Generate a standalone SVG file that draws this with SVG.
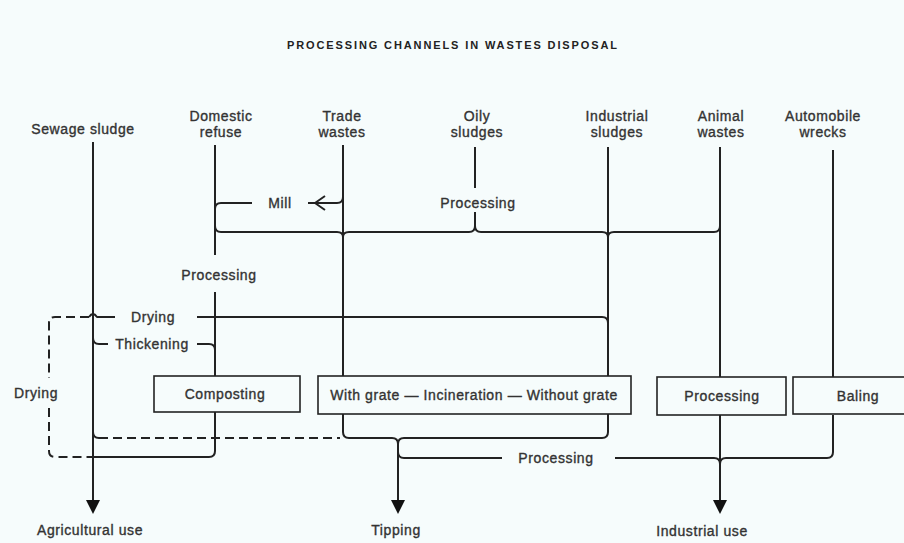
<svg xmlns="http://www.w3.org/2000/svg" width="904" height="543" viewBox="0 0 904 543">
<style>
.t{font-family:"Liberation Sans",Arial,sans-serif;font-size:14px;letter-spacing:0.6px;fill:#333;stroke:#333;stroke-width:0.35;text-anchor:middle}
.ln{fill:none;stroke:#222;stroke-width:2;stroke-linecap:butt;stroke-linejoin:round}
.ds{fill:none;stroke:#222;stroke-width:2;stroke-dasharray:9 5}
.bx{fill:none;stroke:#222;stroke-width:1.6}
.ah{fill:#111}
</style>
<rect width="904" height="543" fill="#f6fcfc"/>
<text x="452" y="49" style="font-family:'Liberation Sans',Arial,sans-serif;font-size:11px;font-weight:bold;fill:#222" text-anchor="middle" textLength="330" lengthAdjust="spacing">PROCESSING CHANNELS IN WASTES DISPOSAL</text>

<g id="connectors">
<path class="ln" d="M93,142 V502"/>
<path class="ln" d="M215,145 V255"/>
<path class="ln" d="M215,292 V376"/>
<path class="ln" d="M215,412 V451 Q215,457 209,457 H93"/>
<path class="ln" d="M343,145 V376"/>
<path class="ln" d="M475,147 V188"/>
<path class="ln" d="M475,212 V226"/>
<path class="ln" d="M215,226 Q215,232 221,232 H337 Q343,232 343,237 Q343,232 349,232 H469 Q475,232 475,226 Q475,232 481,232 H602 Q608,232 608,237 Q608,232 614,232 H714 Q720,232 720,226"/>
<path class="ln" d="M608,147 V376"/>
<path class="ln" d="M720,147 V377"/>
<path class="ln" d="M720,415 V502"/>
<path class="ln" d="M833,150 V377"/>
<path class="ln" d="M833,415 V452 Q833,458 827,458 H726 Q720,458 720,464 Q720,458 714,458 H615"/>
<path class="ln" d="M398,452 Q398,458 404,458 H502"/>
<path class="ln" d="M343,414 V432 Q343,438 349,438 H392 Q398,438 398,444 Q398,438 404,438 H602 Q608,438 608,432 V414"/>
<path class="ln" d="M398,444 V502"/>
<path class="ln" d="M215,209 Q215,203 221,203 H252"/>
<path class="ln" d="M343,197 Q343,203 337,203 H308"/>
<path class="ln" d="M325,196 L315,203 L325,210"/>
<path class="ln" d="M197,317 H602 Q608,317 608,323"/>
<path class="ln" d="M89,317 Q93,311 97,317 H115"/>
<path class="ds" d="M89,317 H55 Q49,317 49,323 V378"/>
<path class="ds" d="M49,408 V451 Q49,457 55,457 H93"/>
<path class="ln" d="M93,338 Q93,344 99,344 H108"/>
<path class="ln" d="M197,344 H209 Q215,344 215,350"/>
<path class="ln" d="M93,432 Q93,438 99,438"/>
<path class="ds" d="M99,438 H340"/>
<polygon class="ah" points="86,500 100,500 93,514"/>
<polygon class="ah" points="391,500 405,500 398,514"/>
<polygon class="ah" points="713,500 727,500 720,514"/>
</g>

<g id="sewage-sludge"><text class="t" x="83" y="134">Sewage sludge</text></g>
<g id="domestic-refuse"><text class="t" x="221" y="121">Domestic</text><text class="t" x="221" y="137">refuse</text></g>
<g id="trade-wastes"><text class="t" x="342" y="121">Trade</text><text class="t" x="342" y="137">wastes</text></g>
<g id="oily-sludges"><text class="t" x="477" y="121">Oily</text><text class="t" x="477" y="137">sludges</text></g>
<g id="industrial-sludges"><text class="t" x="617" y="121">Industrial</text><text class="t" x="617" y="137">sludges</text></g>
<g id="animal-wastes"><text class="t" x="721" y="121">Animal</text><text class="t" x="721" y="137">wastes</text></g>
<g id="automobile-wrecks"><text class="t" x="823" y="121">Automobile</text><text class="t" x="823" y="137">wrecks</text></g>

<g id="mill"><text class="t" x="280" y="208">Mill</text></g>
<g id="processing-oily"><text class="t" x="478" y="208">Processing</text></g>
<g id="processing-domestic"><text class="t" x="219" y="280">Processing</text></g>
<g id="drying-top"><text class="t" x="153" y="322">Drying</text></g>
<g id="thickening"><text class="t" x="152" y="349">Thickening</text></g>
<g id="drying-left"><text class="t" x="36" y="398">Drying</text></g>

<g id="composting"><rect class="bx" x="154" y="376" width="146" height="36"/><text class="t" x="225" y="399">Composting</text></g>
<g id="incineration"><rect class="bx" x="318" y="376" width="313" height="38"/><text class="t" x="474" y="400">With grate — Incineration — Without grate</text></g>
<g id="processing-animal"><rect class="bx" x="657" y="377" width="129" height="38"/><text class="t" x="722" y="401">Processing</text></g>
<g id="baling"><rect class="bx" x="793" y="377" width="132" height="37"/><text class="t" x="858" y="401">Baling</text></g>

<g id="processing-bottom"><text class="t" x="556" y="463">Processing</text></g>

<g id="agricultural-use"><text class="t" x="90" y="535">Agricultural use</text></g>
<g id="tipping"><text class="t" x="396" y="535">Tipping</text></g>
<g id="industrial-use"><text class="t" x="702" y="536">Industrial use</text></g>
</svg>
